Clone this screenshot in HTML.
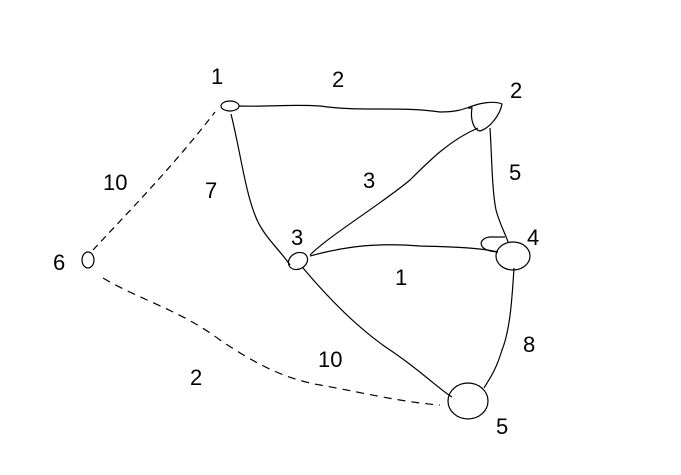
<!DOCTYPE html>
<html><head><meta charset="utf-8"><style>
html,body{margin:0;padding:0;background:#fff;width:681px;height:475px;overflow:hidden}
svg{display:block}
text{font-family:"Liberation Sans",sans-serif;font-size:22px;fill:#000;font-weight:300}
</style></head><body>
<svg width="681" height="475" viewBox="0 0 681 475" fill="none" stroke="#000" stroke-width="1.2">
<g>
<path d="M239,106 C270,107 290,104 320,106 C360,112 400,106 440,112 C455,112 462,110 472,106"/>
<path d="M231,114 C240,150 245,190 255,215 C262,235 280,250 290,265"/>
<path d="M478,128 C450,140 430,160 410,180 C380,205 330,235 310,255"/>
<path d="M310,256 C350,245 380,243 420,246 C460,247 480,248 498,252"/>
<path d="M303,268 C330,300 360,330 390,350 C420,370 440,390 452,397"/>
<path d="M490,128 C492,160 492,190 496,210 C500,225 506,235 508,242"/>
<path d="M514,268 C512,300 510,330 502,350 C496,370 490,378 484,388"/>
<path stroke-dasharray="7,5" d="M93,250 C130,210 170,170 215,112"/>
<path stroke-dasharray="8,6" d="M103,278 C140,300 180,310 220,340 C250,360 280,378 320,385 C360,392 400,402 440,405"/>
</g>
<g>
<ellipse cx="230" cy="106" rx="9" ry="5"/>
<path d="M468,108 C480,102 495,101 502,104 C500,115 490,128 480,131 C474,130 470,120 472,108 Z"/>
<ellipse cx="298" cy="261" rx="10" ry="8" transform="rotate(-30 298 261)"/>
<ellipse cx="513" cy="256" rx="17" ry="14"/>
<path d="M498,252 C476,251 478,238 490,237 L505,237"/>
<ellipse cx="468" cy="401" rx="20" ry="18"/>
<ellipse cx="88" cy="260" rx="6" ry="8"/>
</g>
<g stroke="none">
<text x="211" y="84" font-size="16">1</text>
<text x="510" y="98" font-size="16">2</text>
<text x="291" y="245" font-size="16">3</text>
<text x="527" y="245" font-size="16">4</text>
<text x="496" y="434" font-size="18">5</text>
<text x="53" y="270" font-size="16">6</text>
</g>
<g stroke="none">
<text x="332" y="87">2</text>
<text x="509" y="180" font-size="26">5</text>
<text x="363" y="188" font-size="26">3</text>
<text x="205" y="198">7</text>
<text x="103" y="190">10</text>
<text x="395" y="285" font-size="26">1</text>
<text x="523" y="352" font-size="26">8</text>
<text x="318" y="367">10</text>
<text x="190" y="385" font-size="26">2</text>
</g>
</svg>
</body></html>
